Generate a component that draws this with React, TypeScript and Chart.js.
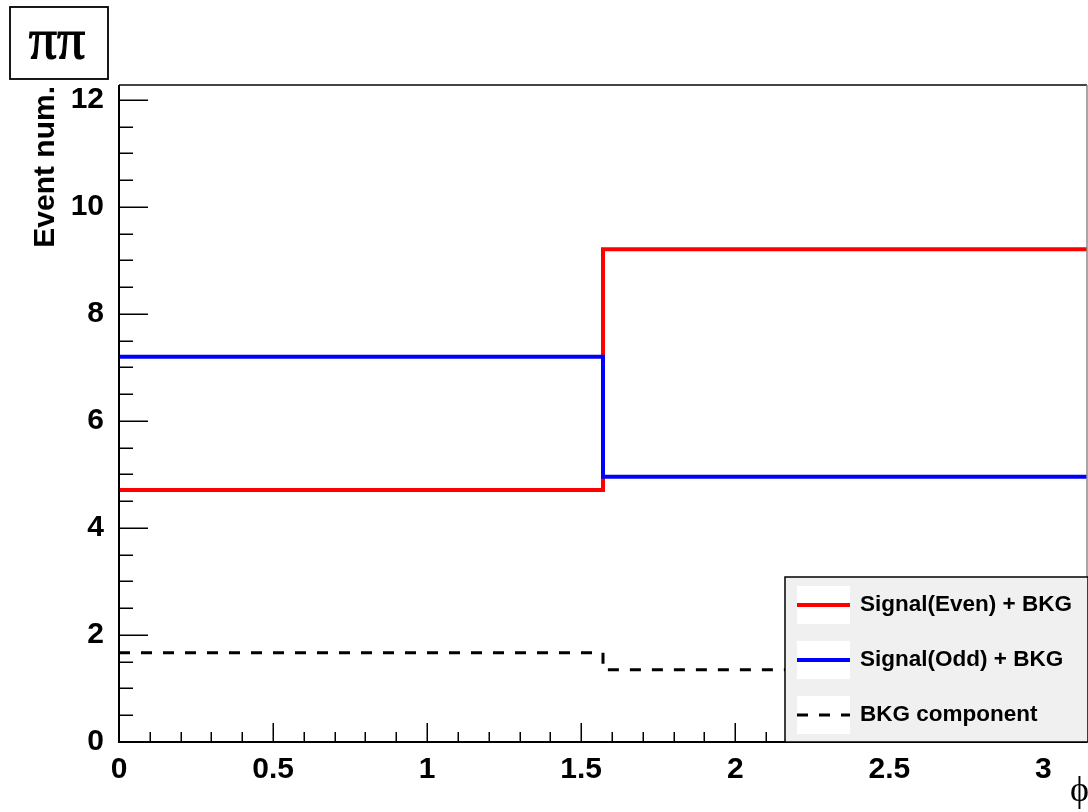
import React, { useEffect, useRef } from "react";
import { Chart, registerables } from "chart.js";

Chart.register(...registerables);

const PI = Math.PI;
const binEdges = [0, PI / 2, PI];
const evenValues = [4.71, 9.21];
const oddValues = [7.2, 4.96];
const bkgValues = [1.67, 1.35];
const xTickValues = [0, 0.5, 1, 1.5, 2, 2.5, 3];
const yTickValues = [0, 2, 4, 6, 8, 10, 12];
const legendLabels = ["Signal(Even) + BKG", "Signal(Odd) + BKG", "BKG component"];
const xTitle = "ϕ";
const yTitle = "Event num.";
const padTitle = "ππ";
const X_MAX = PI;
const Y_MAX = 12.28;

function histPoints(values: number[]) {
  const pts = values.map((v, i) => ({ x: binEdges[i], y: v }));
  pts.push({ x: binEdges[binEdges.length - 1], y: values[values.length - 1] });
  return pts;
}

const SANS = "'Liberation Sans', Arial, Helvetica, sans-serif";
const SERIF = "'Liberation Serif', 'Times New Roman', serif";

const rootStyle = {
  id: "rootStyle",
  beforeDraw(chart: any) {
    const { ctx, width, height } = chart;
    ctx.save();
    ctx.fillStyle = "#fff";
    ctx.fillRect(0, 0, width, height);
    ctx.restore();
  },
  afterDatasetsDraw(chart: any) {
    const { ctx, chartArea: a, scales } = chart;
    const xs = scales.x;
    const ys = scales.y;
    ctx.save();

    // frame (top & right)
    ctx.strokeStyle = "#444";
    ctx.lineWidth = 2;
    ctx.beginPath();
    ctx.moveTo(a.left, a.top);
    ctx.lineTo(a.right, a.top);
    ctx.stroke();
    ctx.strokeStyle = "#888";
    ctx.lineWidth = 1.5;
    ctx.beginPath();
    ctx.moveTo(a.right, a.top);
    ctx.lineTo(a.right, a.bottom);
    ctx.stroke();

    // axis lines
    ctx.strokeStyle = "#000";
    ctx.lineWidth = 2;
    ctx.beginPath();
    ctx.moveTo(a.left, a.top);
    ctx.lineTo(a.left, a.bottom);
    ctx.lineTo(a.right, a.bottom);
    ctx.stroke();

    // y ticks (inside)
    ctx.lineWidth = 1.5;
    ctx.beginPath();
    for (let k = 0; k * 0.5 <= Y_MAX; k++) {
      const y = Math.round(ys.getPixelForValue(k * 0.5)) + 0.25;
      const len = k % 4 === 0 ? 29 : 14;
      ctx.moveTo(a.left, y);
      ctx.lineTo(a.left + len, y);
    }
    // x ticks (inside)
    for (let k = 0; k * 0.1 <= X_MAX; k++) {
      const x = Math.round(xs.getPixelForValue(k * 0.1)) + 0.25;
      const len = k % 5 === 0 ? 19 : 10;
      ctx.moveTo(x, a.bottom);
      ctx.lineTo(x, a.bottom - len);
    }
    ctx.stroke();

    // legend
    const lx0 = 785, ly0 = 577, lx1 = a.right + 1, ly1 = a.bottom;
    ctx.fillStyle = "#f0f0f0";
    ctx.fillRect(lx0, ly0, lx1 - lx0, ly1 - ly0);
    ctx.strokeStyle = "#000";
    ctx.lineWidth = 1.5;
    ctx.strokeRect(lx0, ly0, lx1 - lx0, ly1 - ly0);
    const ds = chart.data.datasets;
    const entries = [ds[1], ds[0], ds[2]];
    const rowY = [605, 660, 715];
    entries.forEach((d: any, i: number) => {
      const cy = rowY[i];
      ctx.fillStyle = "#fff";
      ctx.fillRect(797, cy - 19, 53, 38);
      ctx.strokeStyle = d.borderColor;
      ctx.lineWidth = d.borderWidth;
      ctx.setLineDash(d.borderDash || []);
      ctx.beginPath();
      ctx.moveTo(797, cy);
      ctx.lineTo(850, cy);
      ctx.stroke();
      ctx.setLineDash([]);
      ctx.fillStyle = "#000";
      ctx.font = `bold 22.5px ${SANS}`;
      ctx.textAlign = "left";
      ctx.textBaseline = "middle";
      ctx.fillText(legendLabels[i], 860, cy);
    });

    // y axis title
    ctx.save();
    ctx.translate(54, 86);
    ctx.rotate(-Math.PI / 2);
    ctx.font = `bold 30px ${SANS}`;
    ctx.fillStyle = "#000";
    ctx.textAlign = "right";
    ctx.textBaseline = "alphabetic";
    ctx.fillText(yTitle, 0, 0);
    ctx.restore();

    // x axis title
    ctx.font = `36px ${SERIF}`;
    ctx.fillStyle = "#000";
    ctx.textAlign = "right";
    ctx.textBaseline = "alphabetic";
    ctx.fillText(xTitle, 1089, 801);

    // pad title box
    ctx.fillStyle = "#fff";
    ctx.fillRect(10, 7, 98, 72);
    ctx.strokeStyle = "#000";
    ctx.lineWidth = 1.8;
    ctx.strokeRect(10, 7, 98, 72);
    ctx.fillStyle = "#000";
    ctx.font = `56px ${SERIF}`;
    ctx.textAlign = "center";
    ctx.textBaseline = "alphabetic";
    ctx.lineWidth = 1.2;
    ctx.fillText(padTitle, 57, 58);
    ctx.strokeText(padTitle, 57, 58);

    ctx.restore();
  },
};

export default function App() {
  const ref = useRef<HTMLCanvasElement>(null);
  useEffect(() => {
    document.body.style.margin = "0";
    const tickFont = { family: SANS, weight: "bold" as const, size: 30 };
    const chart = new Chart(ref.current!, {
      type: "line",
      data: {
        datasets: [
          {
            label: legendLabels[1],
            data: histPoints(oddValues),
            borderColor: "#0000ff",
            borderWidth: 4,
            stepped: true,
            pointRadius: 0,
            fill: false,
          },
          {
            label: legendLabels[0],
            data: histPoints(evenValues),
            borderColor: "#ff0000",
            borderWidth: 4,
            stepped: true,
            pointRadius: 0,
            fill: false,
          },
          {
            label: legendLabels[2],
            data: histPoints(bkgValues),
            borderColor: "#000000",
            borderWidth: 3,
            borderDash: [11, 11],
            stepped: true,
            pointRadius: 0,
            fill: false,
          },
        ],
      },
      options: {
        responsive: false,
        animation: false,
        devicePixelRatio: 1,
        layout: { padding: { left: 0, top: 85, right: 1, bottom: 0 } },
        plugins: { legend: { display: false }, tooltip: { enabled: false } },
        scales: {
          x: {
            type: "linear",
            min: 0,
            max: X_MAX,
            grid: { display: false },
            border: { display: false },
            afterFit: (s: any) => {
              s.height = 70;
            },
            afterBuildTicks: (s: any) => {
              s.ticks = xTickValues.map((v) => ({ value: v }));
            },
            ticks: {
              font: tickFont,
              color: "#000",
              padding: 2,
              maxRotation: 0,
              autoSkip: false,
              callback: (v: any) => String(v),
            },
          },
          y: {
            type: "linear",
            min: 0,
            max: Y_MAX,
            grid: { display: false },
            border: { display: false },
            afterFit: (s: any) => {
              s.width = 119;
            },
            afterBuildTicks: (s: any) => {
              s.ticks = yTickValues.map((v) => ({ value: v }));
            },
            ticks: {
              font: tickFont,
              color: "#000",
              padding: 7,
              autoSkip: false,
              callback: (v: any) => String(v),
            },
          },
        },
      },
      plugins: [rootStyle],
    } as any);
    return () => chart.destroy();
  }, []);
  return (
    <div style={{ position: "absolute", left: 0, top: 0, width: 1088, height: 812 }}>
      <canvas ref={ref} width={1088} height={812} style={{ display: "block", width: 1088, height: 812 }} />
    </div>
  );
}
